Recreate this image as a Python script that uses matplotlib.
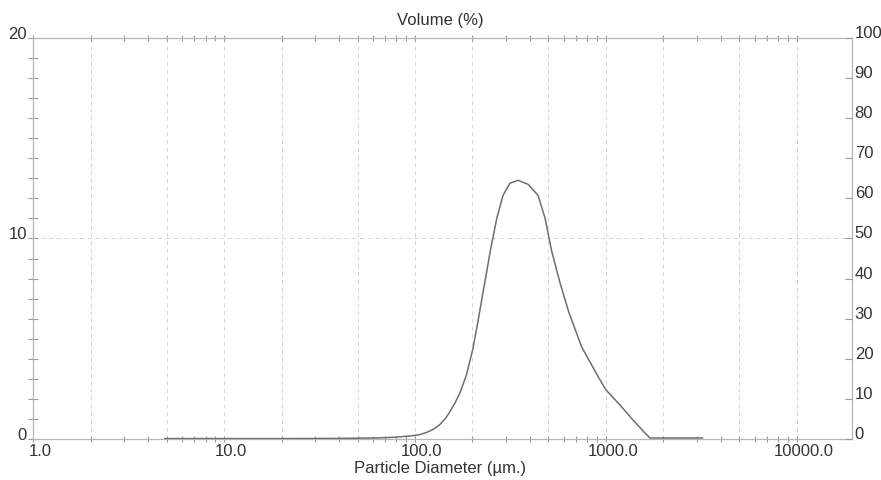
import numpy as np
import matplotlib.pyplot as plt
import matplotlib.transforms as mtransforms
from matplotlib.ticker import FixedLocator, NullFormatter

plt.rcParams['font.family'] = ['Liberation Sans', 'DejaVu Sans']

# particle size distribution
diameter_um = [4.9, 10, 20, 40, 60, 75, 84, 96, 106, 115, 124, 135, 145, 152,
               162, 172, 186, 201, 214, 224, 236, 247, 268, 289, 314, 346, 391,
               441, 480, 520, 574, 640, 745, 911, 1000, 1183, 1384, 1600, 1700,
               2500, 3200]
volume_pct = [0.02, 0.02, 0.02, 0.03, 0.05, 0.08, 0.11, 0.16, 0.22, 0.33, 0.47,
              0.72, 1.05, 1.35, 1.8, 2.3, 3.2, 4.5, 5.9, 7.0, 8.2, 9.3, 11.0,
              12.15, 12.75, 12.9, 12.7, 12.15, 11.0, 9.35, 7.8, 6.3, 4.6, 3.1,
              2.45, 1.7, 0.95, 0.3, 0.05, 0.05, 0.05]

x_major = [1, 10, 100, 1000, 10000]
x_labels = ['1.0', '10.0', '100.0', '1000.0', '10000.0']
x_grid = [2, 5, 10, 20, 50, 100, 200, 500, 1000, 2000, 5000, 10000]
left_ticks = [0, 10, 20]
right_ticks = list(range(0, 101, 10))

txt = '#333333'
spine_c = '#b5b5b5'

fig = plt.figure(figsize=(8.81, 4.8), dpi=100)
ax = fig.add_axes([0.0375, 0.0854, 0.9295, 0.8356])

ax.plot(diameter_um, volume_pct, color='#6e6e6e', lw=1.1, zorder=5)

ax.set_xscale('log')
ax.set_xlim(1, 19400)
ax.set_ylim(0, 20)

# dashed grid
for g in x_grid:
    ax.axvline(g, color='#d4d4d4', lw=0.7, ls=(0, (4, 4)), zorder=1)
ax.axhline(10, color='#d4d4d4', lw=0.7, ls=(0, (4, 4)), zorder=1)

for s in ax.spines.values():
    s.set_color(spine_c)
    s.set_linewidth(0.9)

# x axis ticks on top and bottom
ax.xaxis.set_major_locator(FixedLocator(x_major))
ax.set_xticklabels(x_labels)
minors = [m * 10 ** e for e in range(0, 5) for m in range(2, 10)]
ax.xaxis.set_minor_locator(FixedLocator(minors))
ax.xaxis.set_minor_formatter(NullFormatter())
ax.tick_params(axis='x', which='both', direction='inout', length=5, width=0.8,
               color='#999999', top=True, labelsize=12, labelcolor=txt, pad=1)

# left axis
ax.yaxis.set_major_locator(FixedLocator(left_ticks))
ax.yaxis.set_minor_locator(FixedLocator(list(range(0, 21))))
ax.tick_params(axis='y', which='both', direction='inout', length=7, width=0.8,
               color='#999999', labelsize=12, labelcolor=txt, pad=1)

# right axis
ax2 = ax.twinx()
ax2.set_ylim(0, 100)
ax2.yaxis.set_major_locator(FixedLocator(right_ticks))
ax2.tick_params(axis='y', direction='in', length=5, width=0.8, color='#999999',
                labelsize=12, labelcolor=txt, pad=2)
for s in ax2.spines.values():
    s.set_visible(False)

# labels sit a little above their ticks on the scan
up = mtransforms.ScaledTranslation(0, 0.05, fig.dpi_scale_trans)
up_r = mtransforms.ScaledTranslation(0, 0.06, fig.dpi_scale_trans)
right_shift = mtransforms.ScaledTranslation(0.07, 0, fig.dpi_scale_trans)
for lbl in ax.get_yticklabels():
    lbl.set_transform(lbl.get_transform() + up)
for lbl in ax2.get_yticklabels():
    lbl.set_transform(lbl.get_transform() + up_r)
for lbl in ax.get_xticklabels():
    lbl.set_transform(lbl.get_transform() + right_shift)

fig.text(0.5, 0.958, 'Volume (%)', ha='center', va='center', fontsize=12, color=txt)
fig.text(0.5, 0.025, 'Particle Diameter (\u00b5m.)', ha='center', va='center',
         fontsize=12, color=txt)

fig.savefig('out.png', dpi=100)
